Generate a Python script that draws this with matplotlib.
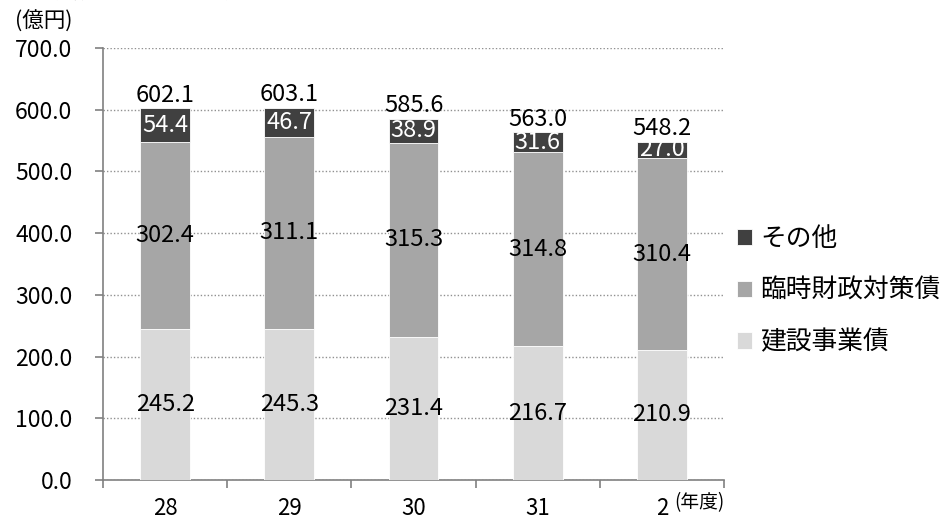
import matplotlib
matplotlib.use("Agg")
import matplotlib.pyplot as plt
import numpy as np

plt.rcParams['font.family'] = ['Noto Sans CJK JP', 'DejaVu Sans']

categories = ['28', '29', '30', '31', '2']
construction = [245.2, 245.3, 231.4, 216.7, 210.9]
temporary = [302.4, 311.1, 315.3, 314.8, 310.4]
other = [54.4, 46.7, 38.9, 31.6, 27.0]
totals = [602.1, 603.1, 585.6, 563.0, 548.2]
series_names = ['建設事業債', '臨時財政対策債', 'その他']
colors = ['#D9D9D9', '#A6A6A6', '#404040']

fig = plt.figure(figsize=(9.44, 5.22), dpi=100)
ax = fig.add_axes([103/944, 42/522, (724-103)/944, (480-48)/522])

x = np.arange(len(categories))
w = 0.4
bottom = np.zeros(len(categories))
bars = []
for vals, col, name in zip([construction, temporary, other], colors, series_names):
    b = ax.bar(x, vals, w, bottom=bottom, color=col, edgecolor='white', linewidth=0.6, label=name, zorder=3)
    bars.append(b)
    for xi, v, bt in zip(x, vals, bottom):
        tc = 'white' if col == '#404040' else 'black'
        ax.text(xi, bt + v / 2, f'{v:.1f}', ha='center', va='center', fontsize=17, color=tc, zorder=4)
    bottom = bottom + np.array(vals)

for xi, t in zip(x, totals):
    ax.text(xi, t + 3, f'{t:.1f}', ha='center', va='bottom', fontsize=17, color='black', zorder=4)

ax.set_xlim(-0.5, len(categories) - 0.5)
ax.set_ylim(0, 700)
ax.set_yticks(np.arange(0, 701, 100))
ax.set_yticklabels([f'{v:.1f}' for v in np.arange(0, 701, 100)], fontsize=16.5)
ax.yaxis.grid(True, linestyle=(0, (1, 1.5)), color='#909090', linewidth=1.0, zorder=0)
ax.set_axisbelow(True)

ax.set_xticks(np.arange(-0.5, len(categories), 1.0))
ax.set_xticklabels([])
ax.set_xticks(x, minor=True)
ax.set_xticklabels(categories, minor=True, fontsize=16)
ax.tick_params(axis='x', which='major', length=6, color='#808080', width=1.2, direction='out')
ax.tick_params(axis='x', which='minor', length=0, pad=12)
ax.tick_params(axis='y', length=6, color='#808080', width=1.2, direction='out', pad=16)

for s in ['top', 'right']:
    ax.spines[s].set_visible(False)
for s in ['left', 'bottom']:
    ax.spines[s].set_color('#808080')
    ax.spines[s].set_linewidth(1.2)

fig.text(44/944, 1 - 22/522, '(億円)', fontsize=15.5, ha='center', va='center')
fig.text(699/944, 1 - 503/522, '(年度)', fontsize=13.5, ha='center', va='center')
fig.text(12/944, 1 + 13/522, '市債残高の推移', fontsize=24, ha='left', va='center')

handles = [bars[2], bars[1], bars[0]]
labels = [series_names[2], series_names[1], series_names[0]]
leg = fig.legend(handles, labels, loc='center left', bbox_to_anchor=(737/944, 1 - 291/522),
                 frameon=False, fontsize=18.5, handlelength=0.6, handleheight=0.6,
                 handletextpad=0.3, labelspacing=1.0, borderpad=0, borderaxespad=0)

fig.savefig('out.png', dpi=100)
